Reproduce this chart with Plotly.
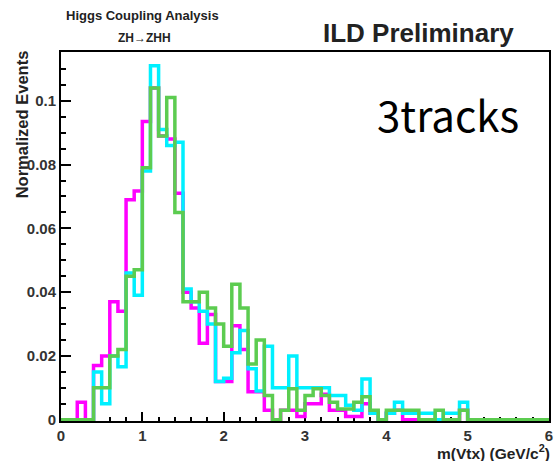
import plotly.graph_objects as go

# bin edges 0.0 ... 6.0 (60 bins of 0.1)
bin_width = 0.1
n_bins = 60
edges = [round(i * bin_width, 1) for i in range(n_bins + 1)]

magenta_vals = [0, 0, 0.0055, 0, 0.017, 0.020, 0.037, 0.034, 0.069, 0.0717,
                0.0935, 0.104, 0.089, 0.088, 0.071, 0.040, 0.035, 0.024, 0.033, 0.012,
                0.012, 0.0295, 0.022, 0.0088, 0.0088, 0.003, 0, 0.003, 0.003, 0.001,
                0.005, 0.005, 0.008, 0.003, 0.003, 0.001, 0.001, 0.005, 0.002, 0,
                0.002, 0.003, 0, 0, 0, 0, 0, 0, 0, 0.003,
                0, 0, 0, 0, 0, 0, 0, 0, 0, 0]

cyan_vals = [0, 0, 0, 0, 0.015, 0.005, 0.020, 0.0166, 0.046, 0.039,
             0.078, 0.111, 0.091, 0.086, 0.087, 0.041, 0.037, 0.034, 0.030, 0.012,
             0.013, 0.021, 0.028, 0.016, 0.009, 0.023, 0.010, 0.010, 0.020, 0.010,
             0.010, 0.010, 0.010, 0.0076, 0.0076, 0.0045, 0.003, 0.0128, 0.002, 0,
             0.002, 0.0055, 0.002, 0.002, 0.002, 0.002, 0, 0.002, 0.002, 0.0055,
             0, 0, 0, 0, 0, 0, 0, 0, 0, 0]

green_vals = [0, 0, 0, 0, 0.010, 0.010, 0.020, 0.022, 0.045, 0.047,
              0.079, 0.104, 0.089, 0.101, 0.065, 0.037, 0.037, 0.040, 0.035, 0.030,
              0.023, 0.0425, 0.035, 0.0175, 0.025, 0.0076, 0, 0.003, 0.0097, 0.003,
              0.0076, 0.0097, 0.0076, 0.0055, 0.0034, 0.0034, 0.0055, 0.0072, 0.003, 0,
              0.003, 0.003, 0.003, 0.003, 0, 0, 0.003, 0, 0, 0.003,
              0, 0, 0, 0, 0, 0, 0, 0, 0, 0]

y_tick_vals = [0, 0.02, 0.04, 0.06, 0.08, 0.1]
y_tick_text = ["0", "0.02", "0.04", "0.06", "0.08", "0.1"]
x_tick_vals = [0, 1, 2, 3, 4, 5, 6]
x_tick_text = ["0", "1", "2", "3", "4", "5", "6"]

series = [
    ("magenta", magenta_vals, "#ff00ff"),
    ("cyan", cyan_vals, "#00f0ff"),
    ("green", green_vals, "#5ccc50"),
]

fig = go.Figure()
for name, vals, col in series:
    xs = edges[:-1] + [edges[-1]]
    ys = list(vals) + [vals[-1]]
    fig.add_trace(go.Scatter(x=xs, y=ys, mode="lines", line_shape="hv",
                             line=dict(color=col, width=3.5), name=name,
                             showlegend=False, hoverinfo="skip"))

tickfont = dict(family="Liberation Sans", size=15, color="#333333")
axis_common = dict(showline=True, linecolor="black", linewidth=2, mirror=True,
                   ticks="inside", tickcolor="black", tickwidth=1.5,
                   showgrid=False, zeroline=False, layer="below traces",
                   tickfont=tickfont, ticklabeloverflow="allow")

fig.update_layout(
    width=555, height=461,
    margin=dict(l=61, r=2, t=52, b=40),
    paper_bgcolor="white", plot_bgcolor="white",
    xaxis=dict(range=[0, 6], tickvals=x_tick_vals,
               ticktext=["<b>%s</b>" % t for t in x_tick_text],
               ticklen=9, minor=dict(ticks="inside", ticklen=4, dtick=0.2,
                                     tickcolor="black", tickwidth=1.5),
               **axis_common),
    yaxis=dict(range=[-0.0004, 0.1153], tickvals=y_tick_vals,
               ticktext=["<b>%s</b>" % t for t in y_tick_text],
               ticklen=10, minor=dict(ticks="inside", ticklen=5, dtick=0.005,
                                      tickcolor="black", tickwidth=1.5),
               **axis_common),
)

bold = "Liberation Sans"
ann = [
    dict(text="<b>Higgs Coupling Analysis</b>", x=64, y=16, size=13),
    dict(text="<b>ZH→ZHH</b>", x=116, y=38, size=12),
    dict(text="<b>ILD Preliminary</b>", x=323, y=33, size=26),
]
for a in ann:
    fig.add_annotation(text=a["text"], xref="paper", yref="paper",
                       x=(a["x"] - 61) / 492, y=(421 - a["y"]) / 369,
                       xanchor="left", yanchor="middle", showarrow=False,
                       font=dict(family=bold, size=a["size"], color="#222222"))

fig.add_annotation(text="3tracks", xref="paper", yref="paper",
                   x=(378 - 61) / 492, y=(421 - 113) / 369,
                   xanchor="left", yanchor="middle", showarrow=False,
                   font=dict(family="Noto Sans CJK JP", size=42, color="black"))

fig.add_annotation(text="<b>Normalized Events</b>", xref="paper", yref="paper",
                   x=(22 - 61) / 492, y=(421 - 48) / 369, textangle=-90,
                   xanchor="center", yanchor="top", showarrow=False,
                   font=dict(family=bold, size=16.5, color="#222222"))

fig.add_annotation(text="<b>m(Vtx) (GeV/c<sup>2</sup>)</b>", xref="paper", yref="paper",
                   x=(556 - 61) / 492, y=(421 - 452) / 369,
                   xanchor="right", yanchor="middle", showarrow=False,
                   font=dict(family=bold, size=15.5, color="#222222"))

fig.write_html("out.html")
